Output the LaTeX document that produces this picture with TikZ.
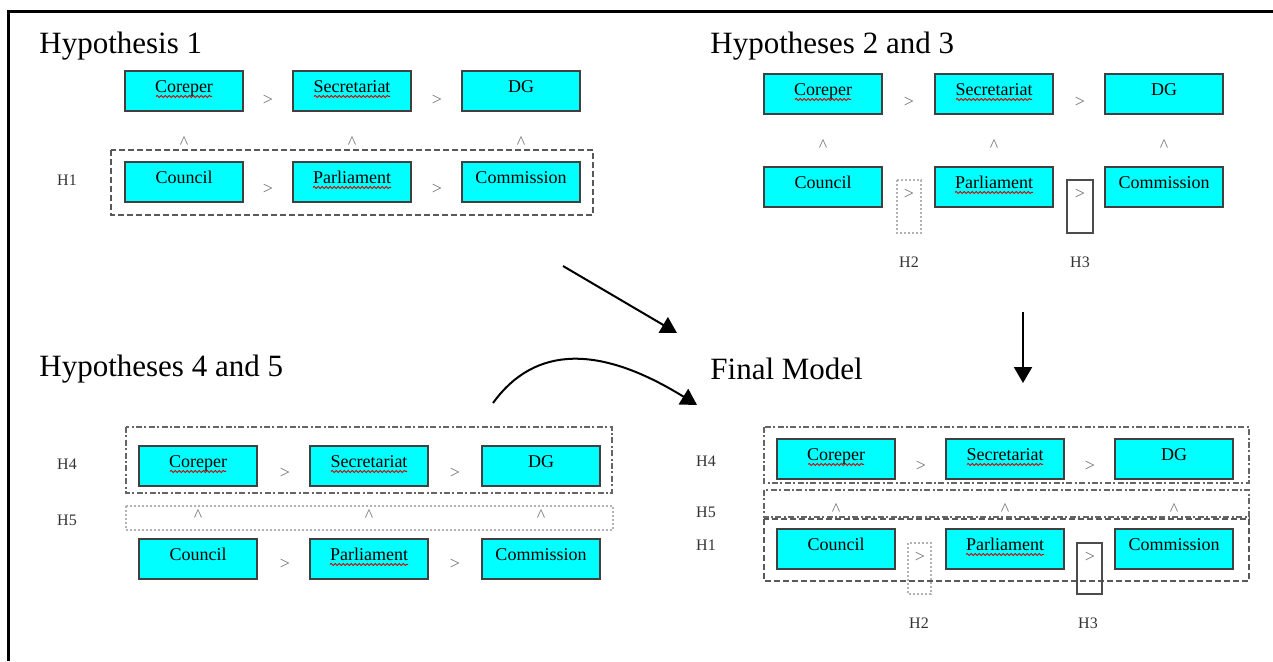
\documentclass[tikz,border=0pt]{standalone}
\usepackage{fontspec}
\setmainfont{Liberation Serif}
\usetikzlibrary{arrows.meta,positioning,decorations.pathmorphing}

\definecolor{boxcyan}{RGB}{0,255,255}

% red squiggle of the spell checker under a box label: node, width of the word
\newcommand{\squig}[2]{%
	\draw [squigline] ([xshift=-#2/2, yshift=-2.7pt]#1.center) -- ([xshift=#2/2, yshift=-2.7pt]#1.center);}

\begin{document}
\begin{tikzpicture}[x=0.5pt,y=-0.5pt,
	inst/.style={draw=black!75, fill=boxcyan, line width=0.8pt, minimum width=59pt, minimum height=20pt, inner sep=0pt, text height=6.5pt, text depth=5pt, font=\fontsize{9}{10}\selectfont},
	rel/.style={text=black!55, inner sep=0pt, font=\fontsize{9}{10}\selectfont},
	hlab/.style={text=black!80, inner sep=0pt, font=\fontsize{8}{9}\selectfont},
	title/.style={anchor=west, inner sep=0pt, font=\fontsize{15.5}{18}\selectfont},
	squigline/.style={draw=red!85!black, line width=0.45pt, decorate, decoration={snake, amplitude=0.5pt, segment length=2pt}},
	grpdash/.style={draw=black!65, line width=0.8pt, dash pattern=on 3pt off 1.5pt},
	grpdot/.style={draw=black!30, line width=0.6pt, dash pattern=on 1pt off 1pt},
	grpdashdot/.style={draw=black!60, line width=0.8pt, dash pattern=on 3pt off 1.2pt on 1pt off 1.2pt},
	flow/.style={line width=1pt, -{Triangle[width=9pt,length=8pt]}}]
				\useasboundingbox (0,0) rectangle (1273,661);
				\draw [line width=1.5pt] (8,661) -- (8,11) -- (1273,11);
				
				%% Hypothesis 1
				\node [title] (t1) at (39,46) {Hypothesis 1};
				\node [inst] (cor1) at (184,91) {Coreper};
				\node [inst] (sec1) at (352,91) {Secretariat};
				\node [inst] (dg1) at (521,91) {DG};
				\node [inst] (cou1) at (184,182) {Council};
				\node [inst] (par1) at (352,182) {Parliament};
				\node [inst] (com1) at (521,182) {Commission};
				\squig{cor1}{28pt}
				\squig{sec1}{38pt}
				\squig{par1}{39pt}
				\node [rel] (gt1a) at (268,100) {>};
				\node [rel] (gt1b) at (437,100) {>};
				\node [rel] (gt1c) at (268,189) {>};
				\node [rel] (gt1d) at (437,189) {>};
				\node [rel] (up1a) at (184,143) {\textasciicircum};
				\node [rel] (up1b) at (352,143) {\textasciicircum};
				\node [rel] (up1c) at (521,143) {\textasciicircum};
				\draw [grpdash] (111,150) rectangle (593,215);
				\node [hlab] (h1a) at (67,180) {H1};
				
				%% Hypotheses 2 and 3
				\node [title] (t2) at (710,46) {Hypotheses 2 and 3};
				\node [inst] (cor2) at (823,94) {Coreper};
				\node [inst] (sec2) at (994,94) {Secretariat};
				\node [inst] (dg2) at (1164,94) {DG};
				\node [inst] (cou2) at (823,187) {Council};
				\node [inst] (par2) at (994,187) {Parliament};
				\node [inst] (com2) at (1164,187) {Commission};
				\squig{cor2}{28pt}
				\squig{sec2}{38pt}
				\squig{par2}{39pt}
				\node [rel] (gt2a) at (909,102) {>};
				\node [rel] (gt2b) at (1080,102) {>};
				\node [rel] (up2a) at (823,146) {\textasciicircum};
				\node [rel] (up2b) at (994,146) {\textasciicircum};
				\node [rel] (up2c) at (1164,146) {\textasciicircum};
				\draw [grpdot] (897,180) rectangle (921,233);
				\draw [draw=black!70, line width=0.8pt] (1067,180) rectangle (1093,233);
				\node [rel] (gt2c) at (909,194) {>};
				\node [rel] (gt2d) at (1080,194) {>};
				\node [hlab] (h2a) at (909,262) {H2};
				\node [hlab] (h3a) at (1080,262) {H3};
				
				%% Hypotheses 4 and 5
				\node [title] (t3) at (39,369) {Hypotheses 4 and 5};
				\draw [grpdashdot] (126,427) rectangle (612,493);
				\draw [grpdot] (126,506) rectangle (613,530);
				\node [inst] (cor3) at (198,466) {Coreper};
				\node [inst] (sec3) at (369,466) {Secretariat};
				\node [inst] (dg3) at (541,466) {DG};
				\node [inst] (cou3) at (198,559) {Council};
				\node [inst] (par3) at (369,559) {Parliament};
				\node [inst] (com3) at (541,559) {Commission};
				\squig{cor3}{28pt}
				\squig{sec3}{38pt}
				\squig{par3}{39pt}
				\node [rel] (gt3a) at (285,473) {>};
				\node [rel] (gt3b) at (455,473) {>};
				\node [rel] (gt3c) at (285,564) {>};
				\node [rel] (gt3d) at (455,564) {>};
				\node [rel] (up3a) at (198,516) {\textasciicircum};
				\node [rel] (up3b) at (369,516) {\textasciicircum};
				\node [rel] (up3c) at (541,516) {\textasciicircum};
				\node [hlab] (h4a) at (67,464) {H4};
				\node [hlab] (h5a) at (67,520) {H5};
				
				%% Final Model
				\node [title] (t4) at (710,369) {Final Model};
				\draw [grpdashdot] (764,427) rectangle (1249,483);
				\draw [grpdashdot] (764,490) rectangle (1249,517);
				\draw [grpdash] (764,519) rectangle (1249,581);
				\node [inst] (cor4) at (836,459) {Coreper};
				\node [inst] (sec4) at (1005,459) {Secretariat};
				\node [inst] (dg4) at (1174,459) {DG};
				\node [inst] (cou4) at (836,549) {Council};
				\node [inst] (par4) at (1005,549) {Parliament};
				\node [inst] (com4) at (1174,549) {Commission};
				\squig{cor4}{28pt}
				\squig{sec4}{38pt}
				\squig{par4}{39pt}
				\node [rel] (gt4a) at (921,466) {>};
				\node [rel] (gt4b) at (1090,466) {>};
				\node [rel] (up4a) at (836,510) {\textasciicircum};
				\node [rel] (up4b) at (1005,510) {\textasciicircum};
				\node [rel] (up4c) at (1174,510) {\textasciicircum};
				\draw [grpdot] (908,543) rectangle (931,594);
				\draw [draw=black!70, line width=0.8pt] (1077,543) rectangle (1102,594);
				\node [rel] (gt4c) at (920,557) {>};
				\node [rel] (gt4d) at (1090,557) {>};
				\node [hlab] (h4b) at (706,461) {H4};
				\node [hlab] (h5b) at (706,512) {H5};
				\node [hlab] (h1b) at (706,545) {H1};
				\node [hlab] (h2b) at (919,623) {H2};
				\node [hlab] (h3b) at (1088,623) {H3};
				
				%% arrows between the panels
				\coordinate (a1s) at (563,266);
				\coordinate (a1e) at (677,333);
				\coordinate (a2s) at (1023,312);
				\coordinate (a2e) at (1023,383);
				\coordinate (a3s) at (493,403);
				\coordinate (a3e) at (697,405);
				\draw [flow] (a1s) -- (a1e);
				\draw [flow] (a2s) -- (a2e);
				\draw [flow] (a3s) .. controls (535,345) and (600,345) .. (a3e);
\end{tikzpicture}
\end{document}
